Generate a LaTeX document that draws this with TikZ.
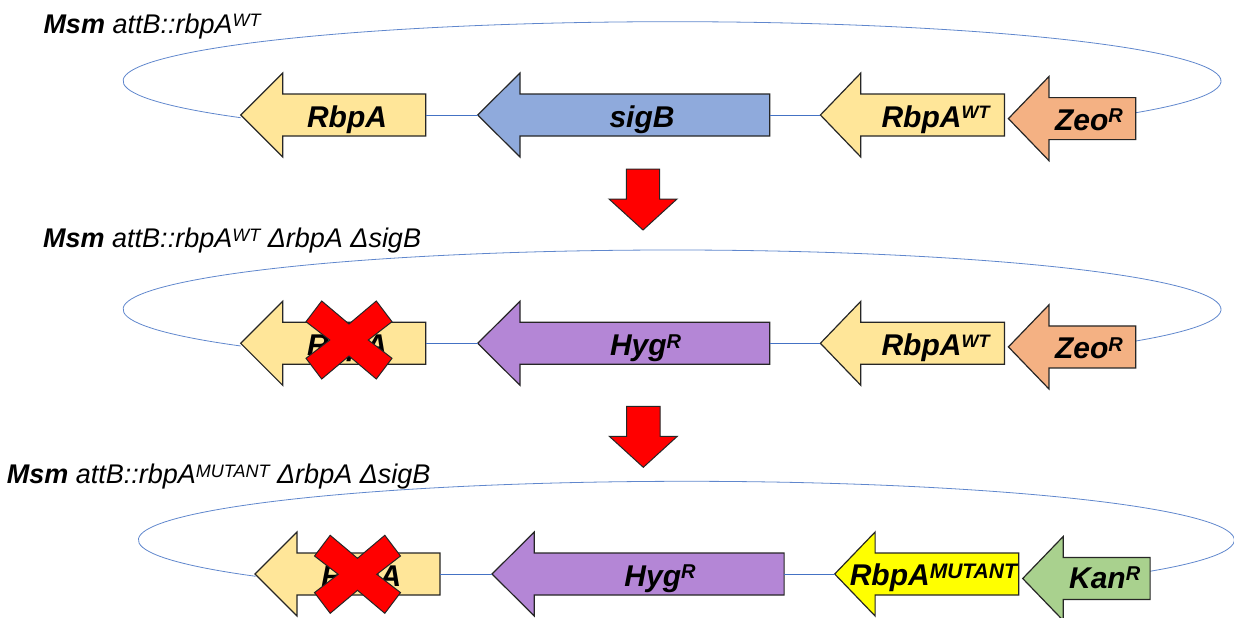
\documentclass[tikz,border=0pt]{standalone}
\usepackage{fontspec}
\setmainfont{Liberation Sans}
\usepackage{tikz}

\definecolor{loopblue}{HTML}{4472C4}
\definecolor{rbpafill}{HTML}{FFE699}
\definecolor{sigbfill}{HTML}{8FAADC}
\definecolor{hygfill}{HTML}{B486D6}
\definecolor{zeofill}{HTML}{F4B183}
\definecolor{kanfill}{HTML}{A9D18E}
\definecolor{mutfill}{HTML}{FFFF00}
\definecolor{kored}{HTML}{FF0000}

% superscript: size, raise, text
\newcommand{\genesup}[3]{\raisebox{#2pt}{\fontsize{#1}{#1}\selectfont #3}}
% gene arrow pointing left: name, fill, tip x, neck x, end x, mid y
\newcommand{\genearrow}[6]{%
  \draw[gene, fill=#2] (#3,#6) coordinate (#1-tip) -- (#4,#6+42) -- (#4,#6+21)
    -- (#5,#6+21) -- (#5,#6) coordinate (#1-end) -- (#5,#6-21) -- (#4,#6-21)
    -- (#4,#6-42) -- cycle;}

\tikzset{
  gene/.style={draw=black!85, line width=1.2pt, line join=miter},
  link/.style={draw=loopblue, line width=0.8pt},
  plasmid/.style={draw=loopblue!85, line width=0.8pt},
  genelabel/.style={anchor=base, inner sep=0pt, font=\fontsize{30}{32}\selectfont\bfseries\itshape},
  strain/.style={anchor=base west, inner sep=0pt, font=\fontsize{27}{30}\selectfont\itshape},
  knockout/.pic={
    \draw[fill=kored, draw=black!85, line width=1pt]
      (-43,18.3) -- (-27.3,39) -- (0,16) -- (27.3,39) -- (43,18.3) -- (19.3,0)
      -- (43,-18.3) -- (27.3,-39) -- (0,-16) -- (-27.3,-39) -- (-43,-18.3)
      -- (-19.3,0) -- cycle;},
  stepdown/.pic={
    \draw[fill=kored, draw=black!85, line width=1pt]
      (0,0) -- (-34,31) -- (-16.7,31) -- (-16.7,61) -- (16.7,61) -- (16.7,31)
      -- (34,31) -- cycle;}
}

\begin{document}
\begin{tikzpicture}[x=1pt, y=1pt]
    \useasboundingbox (0,0) rectangle (1234,-618);

    \node[strain] (title1) at (43.3,-33.3) {\textbf{Msm} attB::rbpA\genesup{18}{6.4}{WT}};
    \node[strain] (title2) at (43,-247.7) {\textbf{Msm} attB::rbpA\genesup{18}{6.4}{WT} ΔrbpA ΔsigB};
    \node[strain] (title3) at (6.7,-483.7) {\textbf{Msm} attB::rbpA\genesup{18}{6.4}{MUTANT} ΔrbpA ΔsigB};

    % row 1
    \begin{scope}
        \draw[plasmid] (672,-81) ++(-32.3:549 and 59.3)
            arc[start angle=-32.3, end angle=218.2, x radius=549, y radius=59.3];
        \genearrow{rbpa1}{rbpafill}{240.7}{282.7}{425.7}{-115}
        \genearrow{sigb1}{sigbfill}{477.7}{520}{769.8}{-115}
        \genearrow{wt1}{rbpafill}{820.4}{860.8}{1004.4}{-115}
        \genearrow{zeo1}{zeofill}{1008.4}{1048.9}{1135.8}{-118.6}
        \draw[link] (rbpa1-end) -- (sigb1-tip) (sigb1-end) -- (wt1-tip);
        \node[genelabel] (rbpa1-lab) at (347,-127.5) {RbpA};
        \node[genelabel] (sigb1-lab) at (642,-127) {sigB};
        \node[genelabel] (wt1-lab) at (935.5,-127.5) {RbpA\genesup{18}{8.6}{WT}};
        \node[genelabel] (zeo1-lab) at (1089,-130) {Zeo\genesup{20}{7.2}{R}};
    \end{scope}

    \pic (step1) at (643,-230) {stepdown};

    % row 2
    \begin{scope}[yshift=-228.3pt]
        \draw[plasmid] (672,-81) ++(-32.3:549 and 59.3)
            arc[start angle=-32.3, end angle=218.2, x radius=549, y radius=59.3];
        \genearrow{rbpa2}{rbpafill}{240.7}{282.7}{425.7}{-115}
        \genearrow{hyg2}{hygfill}{477.7}{520}{769.8}{-115}
        \genearrow{wt2}{rbpafill}{820.4}{860.8}{1004.4}{-115}
        \genearrow{zeo2}{zeofill}{1008.4}{1048.9}{1135.8}{-118.6}
        \draw[link] (rbpa2-end) -- (hyg2-tip) (hyg2-end) -- (wt2-tip);
        \node[genelabel] (rbpa2-lab) at (347,-127.5) {RbpA};
        \node[genelabel] (hyg2-lab) at (645.6,-127) {Hyg\genesup{20}{7.2}{R}};
        \node[genelabel] (wt2-lab) at (935.5,-127.5) {RbpA\genesup{18}{8.6}{WT}};
        \node[genelabel] (zeo2-lab) at (1089,-130) {Zeo\genesup{20}{7.2}{R}};
        \pic (ko2) at (349,-111.7) {knockout};
    \end{scope}

    \pic (step2) at (643.3,-467.3) {stepdown};

    % row 3
    \begin{scope}[xshift=14.3pt, yshift=-459pt]
        \draw[plasmid] (672,-81) ++(-32.3:548 and 58.7)
            arc[start angle=-32.3, end angle=218.2, x radius=548, y radius=58.7];
        \genearrow{rbpa3}{rbpafill}{240.7}{282.7}{425.7}{-115}
        \genearrow{hyg3}{hygfill}{477.7}{520}{769.8}{-115}
        \genearrow{mut3}{mutfill}{820.4}{860.8}{1004.4}{-115}
        \genearrow{kan3}{kanfill}{1008.4}{1048.9}{1135.8}{-119.5}
        \draw[link] (rbpa3-end) -- (hyg3-tip) (hyg3-end) -- (mut3-tip);
        \node[genelabel] (rbpa3-lab) at (347,-127.5) {RbpA};
        \node[genelabel] (hyg3-lab) at (645.7,-127) {Hyg\genesup{20}{7.2}{R}};
        \node[genelabel] (mut3-lab) at (919,-126) {RbpA\genesup{21}{6.4}{MUTANT}};
        \node[genelabel] (kan3-lab) at (1090.4,-129) {Kan\genesup{20}{7.2}{R}};
        \pic (ko3) at (343.2,-115.3) {knockout};
    \end{scope}
\end{tikzpicture}
\end{document}
